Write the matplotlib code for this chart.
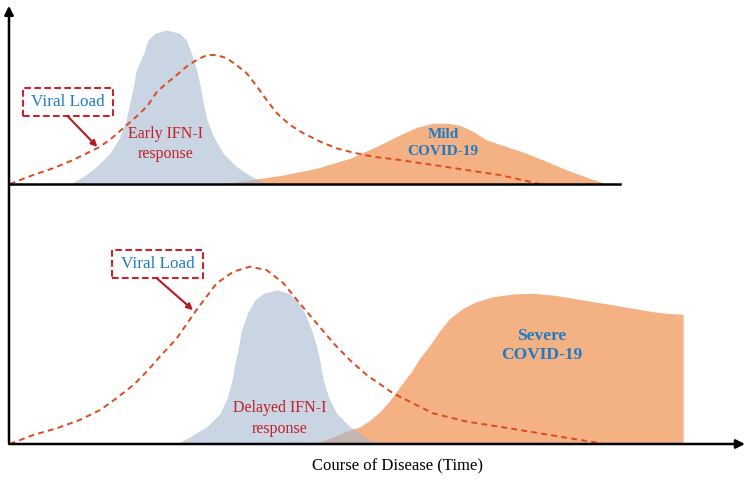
import numpy as np
import matplotlib
matplotlib.use('Agg')
import matplotlib.pyplot as plt
from matplotlib.patches import Rectangle, FancyArrowPatch

plt.rcParams['font.family'] = ['Liberation Serif', 'DejaVu Serif']

# time axis runs 0..100, levels are arbitrary units (baseline = 0)

# top panel : early IFN-I response -> mild disease
early_ifn_t = [8.3, 10.1, 11.9, 13.7, 15.1, 15.9, 16.4, 16.9, 17.3, 18.3, 18.9, 19.8, 21.4,
               23.2, 24.1, 24.8, 25.5, 26.0, 26.4, 26.9, 27.8, 29.1, 30.9, 33.0, 35.0]
early_ifn_y = [0, 4.9, 11.6, 20.4, 31.6, 42.7, 53.8, 64.9, 76, 87.1, 96, 100.4, 102.7,
               100.4, 96, 87.1, 76, 64.9, 53.8, 42.7, 31.6, 20.4, 11.6, 4.9, 0]

mild_t = [28.7, 32.7, 37.3, 41.8, 46.3, 49.9, 53.1, 55.4, 57.6, 59.5, 61.3, 63.1, 64.9,
          67.6, 70.3, 73.1, 75.8, 78.5, 81.2]
mild_y = [0, 2.7, 6, 10.5, 17.1, 24.9, 32.7, 37.8, 40.5, 40.5, 39.1, 34.9, 29.3,
          24.9, 20.5, 14.9, 9.3, 4.5, 0]

viral_top_t = [0.1, 3.3, 6.0, 8.7, 11.0, 12.4, 14.2, 16.0, 17.8, 18.9, 20.1, 21.4, 22.8, 24.1, 25.5,
               26.9, 28.2, 29.6, 30.9, 32.3, 33.7, 35.0, 36.4, 38.2, 40.0, 42.3, 44.5, 46.8,
               49.5, 53.1, 57.6, 62.2, 66.7, 72.1]
viral_top_y = [0, 6, 10.5, 16, 21.5, 24.9, 31.5, 39.3, 47.1, 52.7, 61.5, 67.1, 72.7, 78.2, 82.7,
               86, 86, 83.8, 79.3, 73.8, 64.9, 56, 47.1, 39.3, 33.8, 28.2, 23.8, 20.9,
               18.2, 16, 12.7, 9.3, 6, 0]

# bottom panel : delayed IFN-I response -> severe disease
delayed_ifn_t = [22.8, 24.6, 26.9, 28.7, 29.7, 30.3, 30.7, 31.2, 31.6, 32.4, 33.4, 34.6, 36.4,
                 38.0, 39.1, 40.2, 41.1, 41.8, 42.3, 42.7, 43.4, 44.5, 46.3, 48.4, 50.0]
delayed_ifn_y = [0, 4.9, 11.6, 20.5, 31.5, 42.7, 53.8, 64.9, 76, 87.1, 96, 100.5, 102.7,
                 100.5, 96, 87.1, 76, 64.9, 53.8, 42.7, 31.5, 20.5, 11.6, 4.9, 0]

severe_t = [41.3, 44.1, 46.3, 47.7, 49.1, 50.4, 51.8, 53.1, 54.5, 55.8, 57.2, 58.6, 59.9,
            61.7, 63.5, 65.8, 68.5, 71.2, 73.9, 76.7, 79.4, 82.1, 84.8, 87.5, 89.4, 91.6]
severe_y = [0, 4.9, 9.3, 11.5, 16, 21.5, 29.3, 38.2, 47.1, 57.1, 66, 76, 83.8,
            90.5, 94.9, 98.2, 100, 100.5, 99.3, 97.1, 94.9, 92.7, 90.5, 88.2, 87.1, 86.5]

viral_bot_t = [0.1, 3.3, 6.5, 9.6, 12.4, 14.6, 16.9, 18.7, 20.5, 22.8, 25.3, 28.2, 30.5, 32.7, 35.0,
               37.3, 39.5, 41.8, 44.1, 46.3, 48.6, 52.2, 57.6, 62.2, 66.7, 73.5, 81.0]
viral_bot_y = [0, 6, 10.5, 16, 22.7, 30.5, 39.3, 48.2, 58.2, 70.5, 88.2, 107.1, 114.9, 118.2, 116,
               107.1, 93.8, 80.5, 67.1, 56, 46, 33.8, 20.5, 14.9, 11.5, 6, 0]

orange = '#f4b183'
blue = (165/255., 185/255., 208/255.)
viral_col = '#dc4a1f'
box_col = '#c9252d'
arrow_col = '#b31b24'
red_txt = '#c0202a'
blue_txt = '#1f7ac4'

fig = plt.figure(figsize=(7.49, 4.8), dpi=100)
W, H = 749., 480.

# panels placed so both share the same vertical scale (1 unit = 1.5 px)
ax1 = fig.add_axes([9/W, (H-184)/H, 736/W, 179/H])
ax1.set_xlim(0, 100)
ax1.set_ylim(0, 179/1.5)
ax2 = fig.add_axes([9/W, (H-444)/H, 736/W, 254/H])
ax2.set_xlim(0, 100)
ax2.set_ylim(0, 254/1.5)
for ax in (ax1, ax2):
    ax.set_axis_off()

dash = (0, (3, 2.2))
box_dash = (0, (3.2, 1.6))

# top
ax1.fill_between(mild_t, mild_y, 0, color=orange, lw=0, zorder=1)
ax1.fill_between(early_ifn_t, early_ifn_y, 0, color=blue, alpha=0.6, lw=0, zorder=2)
ax1.plot(viral_top_t, viral_top_y, color=viral_col, lw=1.4, linestyle=dash, zorder=3)
ax1.plot([0, 83], [0, 0], color='black', lw=1.8, zorder=4, clip_on=False)

ax1.add_patch(Rectangle((1.9, 45.3), 12.2, 18.7, fc='white', ec=box_col, lw=1.5, ls=box_dash, zorder=5))
ax1.text(8.0, 54.7, 'Viral Load', color=blue_txt, fontsize=12.3, ha='center', va='center', zorder=6)
ax1.annotate('', xy=(12.0, 24.7), xytext=(8.0, 45.0),
             arrowprops=dict(arrowstyle='-|>', color=arrow_col, lw=1.5, mutation_scale=9, shrinkA=0, shrinkB=0), zorder=5)
ax1.text(21.3, 26.7, 'Early IFN-I\nresponse', color=red_txt, fontsize=11.5, ha='center', va='center',
         linespacing=1.3, zorder=5)
ax1.text(59.0, 27.3, 'Mild\nCOVID-19', color=blue_txt, fontsize=11, fontweight='bold', ha='center', va='center',
         linespacing=1.35, zorder=5)

# bottom
ax2.fill_between(severe_t, severe_y, 0, color=orange, lw=0, zorder=1)
ax2.fill_between(delayed_ifn_t, delayed_ifn_y, 0, color=blue, alpha=0.6, lw=0, zorder=2)
ax2.plot(viral_bot_t, viral_bot_y, color=viral_col, lw=1.4, linestyle=dash, zorder=3)
ax2.annotate('', xy=(100, 0), xytext=(0, 0),
             arrowprops=dict(arrowstyle='-|>', color='black', lw=1.8, mutation_scale=13, shrinkA=0, shrinkB=0),
             zorder=4, annotation_clip=False)

ax2.add_patch(Rectangle((14.0, 110.7), 12.4, 18.6, fc='white', ec=box_col, lw=1.5, ls=box_dash, zorder=5))
ax2.text(20.2, 120, 'Viral Load', color=blue_txt, fontsize=12.3, ha='center', va='center', zorder=6)
ax2.annotate('', xy=(25.0, 89.3), xytext=(20.1, 110.4),
             arrowprops=dict(arrowstyle='-|>', color=arrow_col, lw=1.5, mutation_scale=9, shrinkA=0, shrinkB=0), zorder=5)
ax2.text(36.8, 17.0, 'Delayed IFN-I\nresponse', color=red_txt, fontsize=11.5, ha='center', va='center',
         linespacing=1.35, zorder=5)
ax2.text(72.4, 65.7, 'Severe\nCOVID-19', color=blue_txt, fontsize=12.5, fontweight='bold', ha='center', va='center',
         linespacing=1.3, zorder=5)

# shared vertical axis with arrow on top
fig.add_artist(FancyArrowPatch((9/W, (H-445)/H), (9/W, (H-3)/H), transform=fig.transFigure,
               arrowstyle='-|>', mutation_scale=13, color='black', lw=1.8))

fig.text(397/W, 1-466/H, 'Course of Disease (Time)', ha='center', va='center', fontsize=12)

fig.savefig('out.png', dpi=100)
